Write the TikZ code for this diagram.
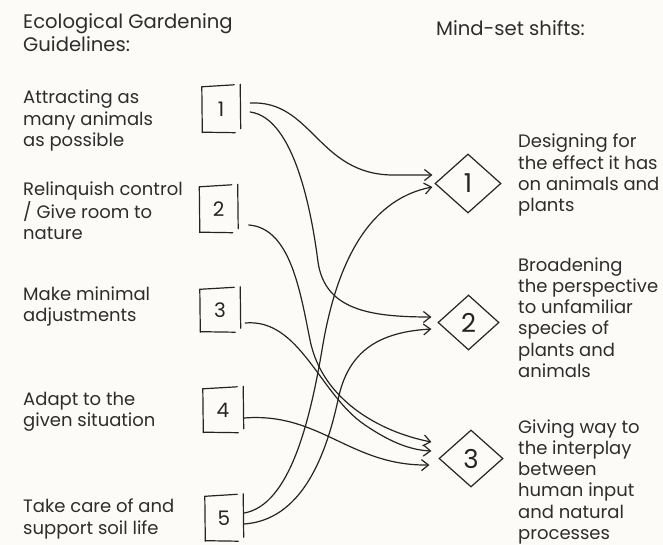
\documentclass[tikz,border=0pt]{standalone}
\usepackage{fontspec}
\setmainfont{Poppins}
\usetikzlibrary{arrows.meta,shapes.geometric}
\definecolor{bg}{RGB}{252,251,247}
\definecolor{ink}{RGB}{36,36,36}
\definecolor{txt}{RGB}{45,45,45}
\newcommand\handbox[1]{%
  \draw[side] ([yshift=-1.5pt]#1.north west) -- ([xshift=-6pt,yshift=0.5pt]#1.north east);
  \draw[side] ([yshift=-1.5pt]#1.north west) -- ([xshift=0.5pt]#1.south west);
  \draw[side] ([xshift=1pt,yshift=0.5pt]#1.south west) -- ([xshift=-5pt]#1.south east);
  \draw[side] ([yshift=1pt]#1.north east) -- ([xshift=0.5pt,yshift=4pt]#1.south east);
}
\begin{document}
\begin{tikzpicture}[x=1pt,y=-1pt,
  lbl/.style={anchor=base west, align=left, inner sep=0pt, text=txt,
    font=\fontsize{18}{21.3}\selectfont},
  ttl/.style={anchor=base west, align=left, inner sep=0pt, text=txt,
    font=\fontsize{19.6}{23}\selectfont},
  numbox/.style={minimum width=38pt, minimum height=47pt, inner sep=0pt,
    text=ink, font=\fontsize{20}{20}\selectfont},
  side/.style={draw=ink, line width=1.2pt, line cap=round},
  dia/.style={diamond, draw=ink, line width=1.2pt, inner sep=0pt,
    minimum width=63pt, minimum height=57pt, text=ink,
    font=\fontsize{26}{26}\selectfont},
  link/.style={draw=ink, line width=1.2pt, line cap=round,
    -{Straight Barb[length=7pt,width=11pt,line width=1.2pt]}}
]
\fill[bg] (0,0) rectangle (663,545);
\useasboundingbox (0,0) rectangle (663,545);

% headings (base anchor = baseline of the last line)
\node[ttl] (title) at (23,52) {Ecological Gardening\\Guidelines:};
\node[ttl] (title2) at (436,36) {Mind-set shifts:};

% guidelines
\node[lbl] (g1) at (23,146.6) {Attracting as\\many animals\\as possible};
\node[lbl] (g2) at (23,239.6) {Relinquish control\\/ Give room to\\nature};
\node[lbl] (g3) at (23,321.3) {Make minimal\\adjustments};
\node[lbl] (g4) at (23,426.3) {Adapt to the\\given situation};
\node[lbl] (g5) at (23,534) {Take care of and\\support soil life};

% shifts
\node[lbl] (s1) at (518,211.9) {Designing for\\the effect it has\\on animals and\\plants};
\node[lbl] (s2) at (518,377.5) {Broadening\\the perspective\\to unfamiliar\\species of\\plants and\\animals};
\node[lbl] (s3) at (518,539.5) {Giving way to\\the interplay\\between\\human input\\and natural\\processes};

% numbered boxes
\node[numbox] (b1) at (221,109) {1};
\node[numbox] (b2) at (218.5,209) {2};
\node[numbox, minimum width=40pt, minimum height=44pt] (b3) at (220,310) {3};
\node[numbox, minimum width=40pt, minimum height=45pt] (b4) at (223,410) {4};
\node[numbox, minimum height=46pt] (b5) at (224,518) {5};
\handbox{b1}\handbox{b2}\handbox{b3}\handbox{b4}\handbox{b5}

% diamonds
\node[dia, minimum width=66pt, minimum height=59pt] (d1) at (468,183.5) {1};
\node[dia, minimum width=61pt, minimum height=55pt] (d2) at (468.5,322.5) {2};
\node[dia, minimum width=64pt, minimum height=57pt] (d3) at (471,458.5) {3};

% connectors
\draw[link] ([xshift=10pt,yshift=6pt]b1.east) .. controls (312,100) and (318,174) .. (392,175) -- ([xshift=-2pt,yshift=8.5pt]d1.west);
\draw[link] ([xshift=10pt,yshift=-3pt]b1.east) .. controls (295,118) and (312,215) .. (318,262) .. controls (325,310) and (370,317) .. ([xshift=-6pt,yshift=5.5pt]d2.west);
\draw[link] ([xshift=11pt,yshift=-16pt]b2.east) .. controls (290,228) and (300,290) .. (310,340) .. controls (322,400) and (380,432) .. ([xshift=-7pt,yshift=16.5pt]d3.west);
\draw[link] ([xshift=5pt,yshift=-13pt]b3.east) .. controls (300,318) and (320,395) .. (365,425) .. controls (390,442) and (410,450) .. ([xshift=-7pt,yshift=7.5pt]d3.west);
\draw[link] ([xshift=1pt,yshift=-8pt]b4.east) .. controls (320,412) and (350,466) .. ([xshift=-9pt,yshift=-6.5pt]d3.west);
\draw[link] ([xshift=1pt,yshift=5pt]b5.east) .. controls (290,505) and (310,420) .. (322,350) .. controls (335,270) and (365,200) .. ([xshift=-2pt,yshift=-3.5pt]d1.west);
\draw[link] ([xshift=1pt,yshift=-6pt]b5.east) .. controls (300,520) and (325,460) .. (338,400) .. controls (348,350) and (380,332) .. ([xshift=-6pt,yshift=-6.5pt]d2.west);
\end{tikzpicture}
\end{document}
